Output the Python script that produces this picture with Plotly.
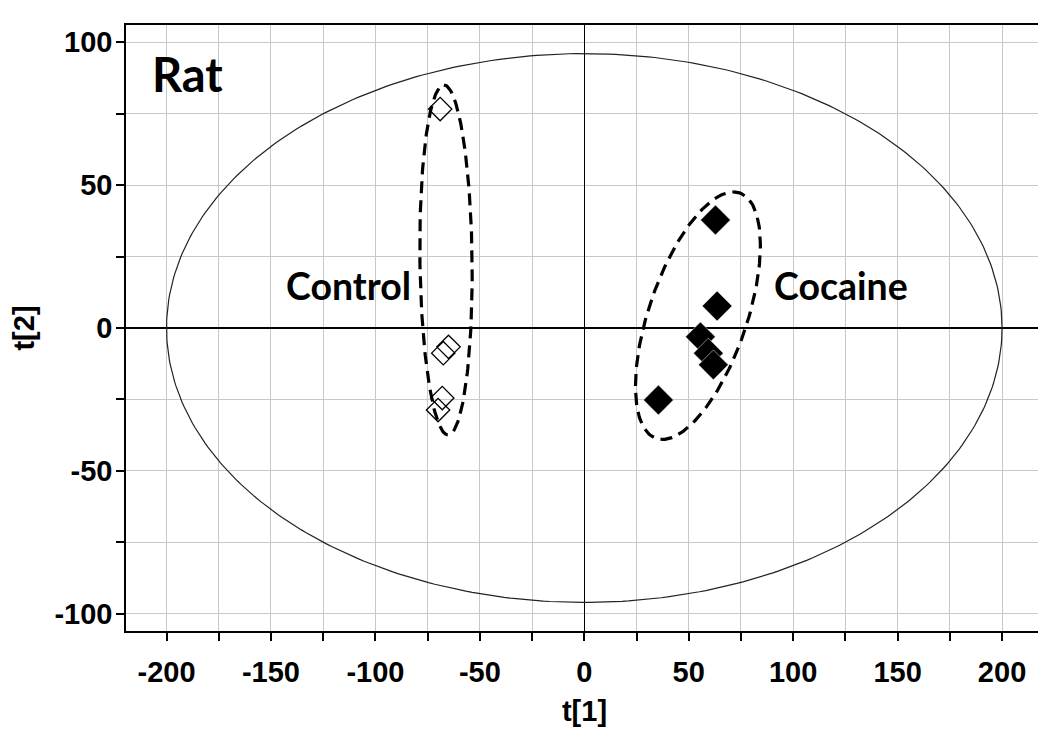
import numpy as np
import plotly.graph_objects as go

# scores (t[1], t[2])
control_t1 = [-69, -65, -67.5, -68, -70]
control_t2 = [76.6, -6.6, -8.8, -24.5, -28.7]
cocaine_t1 = [62.8, 63.6, 55.6, 59.4, 61.8, 35.5]
cocaine_t2 = [37.8, 7.7, -3.1, -8.8, -12.9, -25.2]

# Hotelling T2 ellipse semi-axes
hotelling_a = 200
hotelling_b = 96

# group ellipses: center, conjugate semi-axis vectors
control_ell = dict(c=(-66.2, 23.8), u=(-1.0, 61.2), v=(12.5, 0.0))
cocaine_ell = dict(c=(54.4, 4.3), u=(17.0, 43.3), v=(24.6, 0.0))

x_ticks = [-200, -150, -100, -50, 0, 50, 100, 150, 200]
y_ticks = [-100, -50, 0, 50, 100]

BLACK = "#000000"
GRID = "#c8c8c8"
TICKFONT = dict(family="Liberation Sans, Arial, sans-serif", size=29, color=BLACK)


def ellipse_xy(c, u, v, n=200):
    t = np.linspace(0, 2 * np.pi, n)
    x = c[0] + u[0] * np.cos(t) + v[0] * np.sin(t)
    y = c[1] + u[1] * np.cos(t) + v[1] * np.sin(t)
    return x, y


fig = go.Figure()

# Hotelling ellipse
hx, hy = ellipse_xy((0, 0), (hotelling_a, 0), (0, hotelling_b), 400)
fig.add_trace(go.Scatter(x=hx, y=hy, mode="lines", line=dict(color="#222222", width=1.2),
                         hoverinfo="skip", showlegend=False))

for ell in (control_ell, cocaine_ell):
    ex, ey = ellipse_xy(ell["c"], ell["u"], ell["v"])
    fig.add_trace(go.Scatter(x=ex, y=ey, mode="lines",
                             line=dict(color=BLACK, width=3.2, dash="12px,7px"),
                             hoverinfo="skip", showlegend=False))

fig.add_trace(go.Scatter(x=control_t1, y=control_t2, mode="markers", name="Control",
                         marker=dict(symbol="diamond-open", size=18, color=BLACK,
                                     line=dict(width=1.3, color=BLACK)),
                         showlegend=False))
fig.add_trace(go.Scatter(x=cocaine_t1, y=cocaine_t2, mode="markers", name="Cocaine",
                         marker=dict(symbol="diamond", size=23, color=BLACK,
                                     line=dict(width=0.5, color="#ffffff")),
                         showlegend=False))

label_font = dict(family="Lato, Open Sans, sans-serif", size=37.5, color=BLACK)
fig.add_annotation(x=-190, y=89, text="<b>Rat</b>", showarrow=False,
                   font=dict(family="Lato, Open Sans, sans-serif", size=47, color=BLACK))
fig.add_annotation(x=-113, y=14.7, text="<b>Control</b>", showarrow=False, font=label_font)
fig.add_annotation(x=123, y=14.7, text="<b>Cocaine</b>", showarrow=False, font=label_font)

axis_common = dict(
    showline=True, linecolor=BLACK, linewidth=1.5, mirror=True,
    showgrid=True, gridcolor=GRID, gridwidth=1,
    zeroline=True, zerolinecolor=BLACK, zerolinewidth=1.3,
    ticks="outside", ticklen=8, tickwidth=1.5, tickcolor=BLACK,
    tickfont=TICKFONT, automargin=False,
    minor=dict(dtick=25, showgrid=True, gridcolor=GRID, ticks="outside",
               ticklen=8, tickwidth=1.5, tickcolor=BLACK),
)

fig.update_xaxes(**axis_common, range=[-219.4, 219.6],
                 tickvals=x_ticks, ticktext=[f"<b>{v}</b>" for v in x_ticks],
                 ticklabelstandoff=6,
                 title=dict(text="<b>t[1]</b>", font=TICKFONT, standoff=14))
fig.update_yaxes(**axis_common, range=[-106, 106],
                 tickvals=y_ticks, ticktext=[f"<b>{v}</b>" for v in y_ticks],
                 ticklabelstandoff=-2,
                 title=dict(text="<b>t[2]</b>", font=TICKFONT, standoff=20))
fig.update_yaxes(zerolinewidth=2)

fig.update_layout(
    width=1046, height=743,
    margin=dict(l=118, r=11, t=17, b=120),
    paper_bgcolor="#ffffff", plot_bgcolor="#ffffff",
    font=TICKFONT,
)

fig.write_html("out.html")
